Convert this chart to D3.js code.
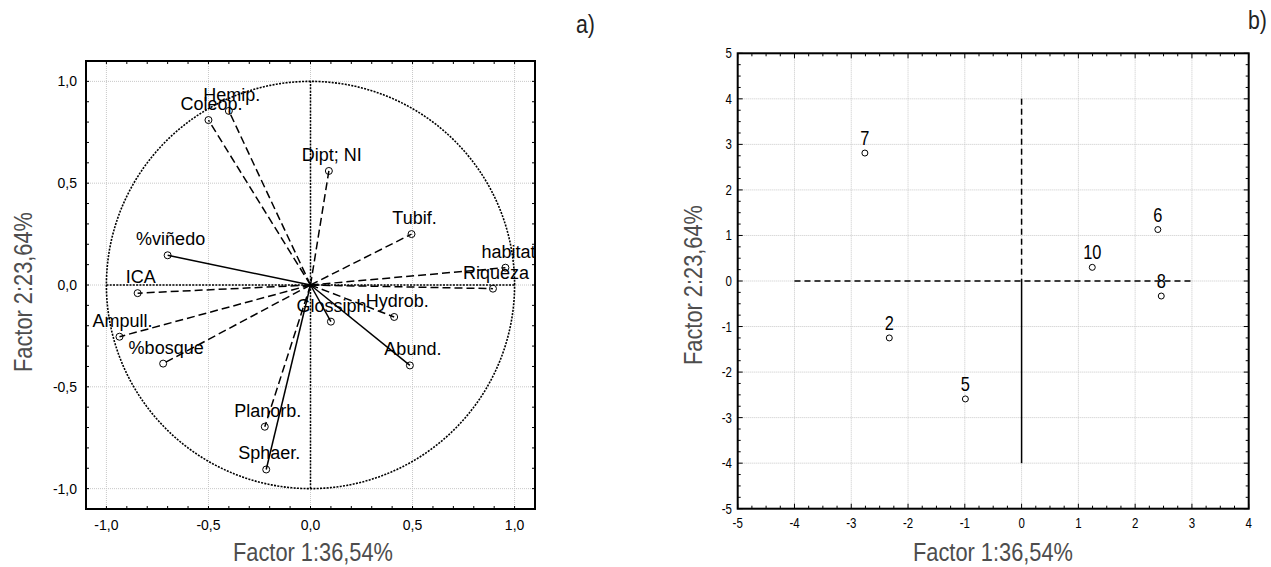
<!DOCTYPE html>
<html>
<head>
<meta charset="utf-8">
<script src="https://cdn.jsdelivr.net/npm/d3@7"></script>
<style>
  html, body { margin: 0; padding: 0; background: #fff; }
  svg { display: block; }
</style>
</head>
<body>
<div id="chart"></div>
<script>
// DATA: a) variable loadings on factor 1 / factor 2
const loadingNames = ["Hemip.", "Coleop.", "Dipt; NI", "Tubif.", "habitat", "Riqueza", "%viñedo", "ICA",
  "Ampull.", "%bosque", "Planorb.", "Sphaer.", "Glossiph.", "Hydrob.", "Abund."];
const loadingF1 = [-0.40, -0.50, 0.09, 0.495, 0.955, 0.894, -0.70, -0.847, -0.936, -0.722, -0.224, -0.217, 0.10, 0.41, 0.487];
const loadingF2 = [0.855, 0.81, 0.56, 0.25, 0.085, -0.018, 0.146, -0.04, -0.254, -0.386, -0.696, -0.906, -0.18, -0.157, -0.395];

// DATA: b) site scores
const siteNames = ["7", "6", "10", "8", "2", "5"];
const siteF1 = [-2.76, 2.40, 1.245, 2.46, -2.33, -0.99];
const siteF2 = [2.81, 1.13, 0.30, -0.33, -1.25, -2.59];

// TICKS
const loadTicks = [-1, -0.5, 0, 0.5, 1];
const loadTickLabels = ["-1,0", "-0,5", "0,0", "0,5", "1,0"];
const siteXTicks = [-5, -4, -3, -2, -1, 0, 1, 2, 3, 4];
const siteYTicks = [-5, -4, -3, -2, -1, 0, 1, 2, 3, 4, 5];

const X_TITLE = "Factor 1:36,54%";
const Y_TITLE = "Factor 2:23,64%";

const WIDTH = 1271, HEIGHT = 567;
const ARIAL = "'Liberation Sans', Arial, sans-serif";
const SQUEEZE = 0.82; // fake a narrow face, none installed

// vectors drawn with a solid line (rest are dashed)
const SOLID = new Set(["%viñedo", "Sphaer.", "Glossiph.", "Abund."]);

const svg = d3.select("#chart").append("svg")
  .attr("width", WIDTH)
  .attr("height", HEIGHT);

// condensed text placed at x,y
function narrowText(g, x, y, str, size, anchor, fill) {
  return g.append("text")
    .attr("transform", `translate(${x},${y}) scale(${SQUEEZE},1)`)
    .attr("text-anchor", anchor)
    .style("font-family", ARIAL)
    .style("font-size", size + "px")
    .style("fill", fill || "#000")
    .text(str);
}

// inward ticks on all four sides
function frameTicks(g, x, y, xMinor, yMinor, xMajor, yMajor) {
  const [x0, x1] = x.range(), [y0, y1] = y.range();
  xMinor.forEach(v => {
    const len = xMajor.some(m => Math.abs(m - v) < 1e-9) ? 5 : 3;
    g.append("line").attr("x1", x(v)).attr("x2", x(v)).attr("y1", y0).attr("y2", y0 - len).attr("stroke", "#000");
    g.append("line").attr("x1", x(v)).attr("x2", x(v)).attr("y1", y1).attr("y2", y1 + len).attr("stroke", "#000");
  });
  yMinor.forEach(v => {
    const len = yMajor.some(m => Math.abs(m - v) < 1e-9) ? 5 : 3;
    g.append("line").attr("y1", y(v)).attr("y2", y(v)).attr("x1", x0).attr("x2", x0 + len).attr("stroke", "#000");
    g.append("line").attr("y1", y(v)).attr("y2", y(v)).attr("x1", x1).attr("x2", x1 - len).attr("stroke", "#000");
  });
  g.append("rect")
    .attr("x", x0).attr("y", y1)
    .attr("width", x1 - x0).attr("height", y0 - y1)
    .attr("fill", "none")
    .attr("stroke", "#000")
    .attr("stroke-width", 2);
}

function grid(g, x, y, xTicks, yTicks) {
  const [x0, x1] = x.range(), [y0, y1] = y.range();
  xTicks.forEach(v => g.append("line")
    .attr("x1", x(v)).attr("x2", x(v)).attr("y1", y0).attr("y2", y1)
    .attr("stroke", "#c8c8c8").attr("stroke-dasharray", "1,1"));
  yTicks.forEach(v => g.append("line")
    .attr("y1", y(v)).attr("y2", y(v)).attr("x1", x0).attr("x2", x1)
    .attr("stroke", "#c8c8c8").attr("stroke-dasharray", "1,1"));
}

function titles(cx, cy, ylx, yly) {
  svg.append("text")
    .attr("x", cx).attr("y", cy)
    .attr("text-anchor", "middle")
    .attr("textLength", 160).attr("lengthAdjust", "spacingAndGlyphs")
    .style("font-family", ARIAL).style("font-size", "26px").style("fill", "#4d4d4d")
    .text(X_TITLE);
  svg.append("text")
    .attr("transform", `translate(${ylx},${yly}) rotate(-90)`)
    .attr("text-anchor", "middle")
    .attr("textLength", 160).attr("lengthAdjust", "spacingAndGlyphs")
    .style("font-family", ARIAL).style("font-size", "26px").style("fill", "#4d4d4d")
    .text(Y_TITLE);
}

// ---------------- PANEL A: LOADINGS ----------------
const xa = d3.scaleLinear().domain([-1.1, 1.1]).range([86, 535]);
const ya = d3.scaleLinear().domain([-1.1, 1.1]).range([509, 61]);
const ga = svg.append("g");

grid(ga, xa, ya, loadTicks, loadTicks);

// unit circle
ga.append("path")
  .attr("d", d3.line().x(d => xa(Math.cos(d))).y(d => ya(Math.sin(d)))(d3.range(0, 2 * Math.PI + 0.01, 0.01)))
  .attr("fill", "none")
  .attr("stroke", "#000")
  .attr("stroke-width", 1.6)
  .attr("stroke-dasharray", "2,1.3");

// axes through origin
ga.append("line").attr("x1", xa(-1)).attr("x2", xa(1)).attr("y1", ya(0)).attr("y2", ya(0))
  .attr("stroke", "#000").attr("stroke-width", 1.5).attr("stroke-dasharray", "2,1.3");
ga.append("line").attr("x1", xa(0)).attr("x2", xa(0)).attr("y1", ya(-1)).attr("y2", ya(1))
  .attr("stroke", "#000").attr("stroke-width", 1.5).attr("stroke-dasharray", "2,1.3");

// vectors
loadingNames.forEach((name, i) => {
  ga.append("line")
    .attr("x1", xa(0)).attr("y1", ya(0))
    .attr("x2", xa(loadingF1[i])).attr("y2", ya(loadingF2[i]))
    .attr("stroke", "#000")
    .attr("stroke-width", 1.5)
    .attr("stroke-dasharray", SOLID.has(name) ? null : "8,4");
});

loadingNames.forEach((name, i) => {
  ga.append("circle")
    .attr("cx", xa(loadingF1[i])).attr("cy", ya(loadingF2[i]))
    .attr("r", 3.5)
    .attr("fill", "none")
    .attr("stroke", "#000");
  ga.append("text")
    .attr("x", xa(loadingF1[i]) + 3).attr("y", ya(loadingF2[i]) - 10)
    .attr("text-anchor", "middle")
    .style("font-family", ARIAL).style("font-size", "18px").style("fill", "#000")
    .text(name);
});

const loadMinor = d3.range(-11, 12).map(v => v / 10);
frameTicks(ga, xa, ya, loadMinor, loadMinor, [], []);

loadTicks.forEach((v, i) => {
  ga.append("text")
    .attr("x", xa(v)).attr("y", 530)
    .attr("text-anchor", "middle")
    .style("font-family", ARIAL).style("font-size", "14px")
    .text(loadTickLabels[i]);
  ga.append("text")
    .attr("x", 77).attr("y", ya(v) + 5)
    .attr("text-anchor", "end")
    .style("font-family", ARIAL).style("font-size", "14px")
    .text(loadTickLabels[i]);
});

titles(313, 561, 32, 292);
narrowText(svg, 576, 33, "a)", 26, "start", "#222");

// ---------------- PANEL B: SITES ----------------
const xb = d3.scaleLinear().domain([-5, 4]).range([737.7, 1248.7]);
const yb = d3.scaleLinear().domain([-5, 5]).range([508.7, 53.3]);
const gb = svg.append("g");

grid(gb, xb, yb, siteXTicks, siteYTicks);

gb.append("line").attr("x1", xb(-4)).attr("x2", xb(3)).attr("y1", yb(0)).attr("y2", yb(0))
  .attr("stroke", "#000").attr("stroke-width", 1.5).attr("stroke-dasharray", "6,4");
gb.append("line").attr("x1", xb(0)).attr("x2", xb(0)).attr("y1", yb(4)).attr("y2", yb(0))
  .attr("stroke", "#000").attr("stroke-width", 1.5).attr("stroke-dasharray", "6,4");
gb.append("line").attr("x1", xb(0)).attr("x2", xb(0)).attr("y1", yb(0)).attr("y2", yb(-4))
  .attr("stroke", "#000").attr("stroke-width", 1.5);

siteNames.forEach((name, i) => {
  gb.append("circle")
    .attr("cx", xb(siteF1[i])).attr("cy", yb(siteF2[i]))
    .attr("r", 3)
    .attr("fill", "#fff")
    .attr("stroke", "#000");
  narrowText(gb, xb(siteF1[i]), yb(siteF2[i]) - 8, name, 20, "middle");
});

frameTicks(gb, xb, yb, d3.range(-20, 17).map(v => v / 4), d3.range(-20, 21).map(v => v / 4), siteXTicks, siteYTicks);

siteXTicks.forEach(v => narrowText(gb, xb(v), 528, v, 14, "middle"));
siteYTicks.forEach(v => narrowText(gb, 732, yb(v) + 5, v, 14, "end"));

titles(993, 561, 702, 285);
narrowText(svg, 1248, 29, "b)", 26, "start", "#222");
</script>
</body>
</html>
